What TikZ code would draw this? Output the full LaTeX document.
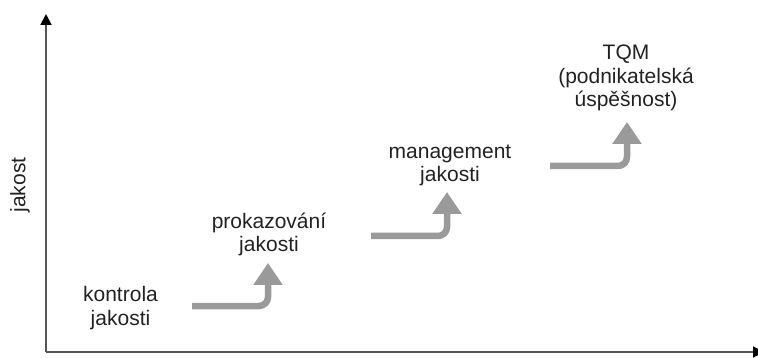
\documentclass[tikz,border=0pt]{standalone}
\usepackage{fontspec}
\setmainfont{Liberation Sans}
\usetikzlibrary{arrows.meta}
\definecolor{stepgray}{HTML}{9A9A9A}
\definecolor{axisgray}{HTML}{555555}
\definecolor{labeltext}{HTML}{222222}
\begin{document}
\begin{tikzpicture}[x=1pt,y=-1pt,
  axisline/.style={draw=axisgray,line width=1.8pt,-{Triangle[length=11pt,width=11pt,fill=black,color=black]}},
  stepline/.style={draw=stepgray,line width=6.5pt,rounded corners=9pt,-{Triangle[length=22pt,width=28pt,fill=stepgray,color=stepgray]}},
  steplabel/.style={align=center,inner sep=0pt,anchor=base,text=labeltext,
    font=\fontsize{21}{23.5}\selectfont}]
  \useasboundingbox (0,0) rectangle (758,358);

  % axes
  \coordinate (origin) at (46,352);
  \coordinate (ytop) at (46,14);
  \coordinate (xend) at (764,352);
  \draw[axisline] (origin) -- (ytop);
  \draw[axisline] (origin) -- (xend);
  \node[text=labeltext,font=\fontsize{21}{23.5}\selectfont,rotate=90,inner sep=0pt] (yaxis) at (20,185) {jakost};

  % stage labels (anchored at the baseline of their last line)
  \node[steplabel] (s1) at (120.5,325) {kontrola\\jakosti};
  \node[steplabel] (s2) at (269,252) {prokazování\\jakosti};
  \node[steplabel] (s3) at (450,182) {management\\jakosti};
  \node[steplabel] (s4) at (626,107) {TQM\\(podnikatelská\\úspěšnost)};

  % step arrows
  \coordinate (a1s) at (192,306);
  \coordinate (a1e) at (268,263);
  \coordinate (a2s) at (371,236);
  \coordinate (a2e) at (447,192);
  \coordinate (a3s) at (550,166);
  \coordinate (a3e) at (627,122);
  \draw[stepline] (a1s) -| (a1e);
  \draw[stepline] (a2s) -| (a2e);
  \draw[stepline] (a3s) -| (a3e);
\end{tikzpicture}
\end{document}
